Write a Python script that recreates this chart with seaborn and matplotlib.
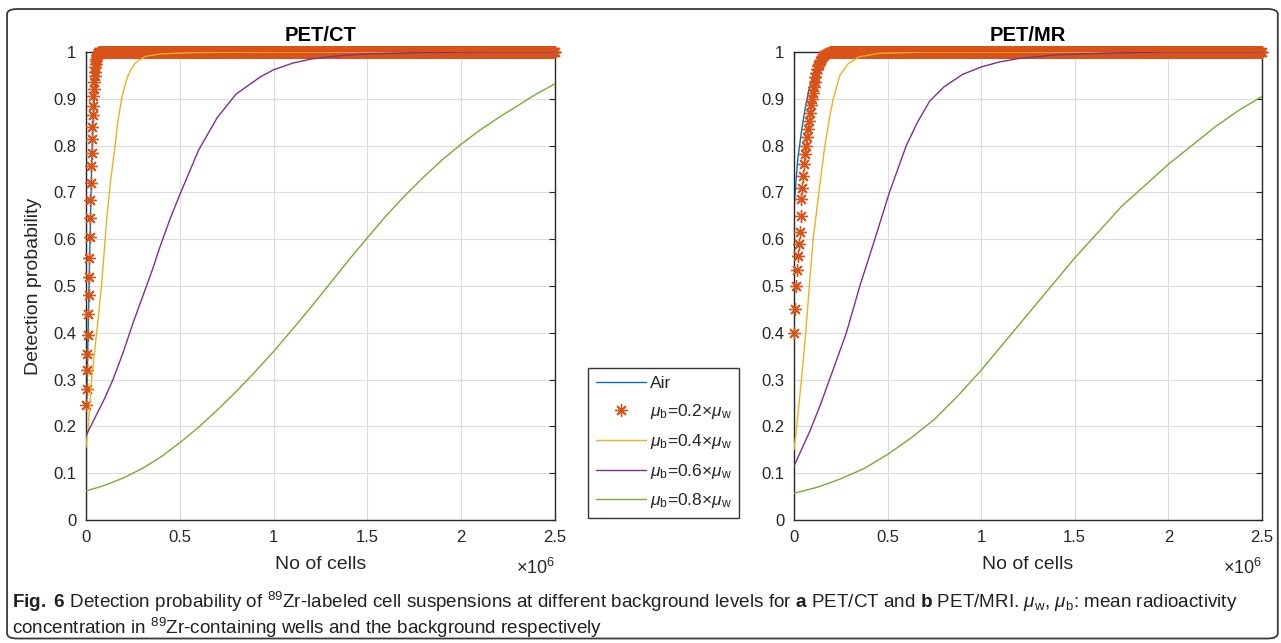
import numpy as np
import seaborn as sns
import matplotlib.pyplot as plt
from matplotlib.patches import FancyBboxPatch

# Curves. x values are in units of 1e6 cells.
# ---- PET/CT (panel a) ----
ct_air_x = [0, 0.002, 0.004, 0.008, 0.012, 0.016, 0.02, 0.025, 0.03, 0.035, 0.04, 0.05, 0.06, 0.08, 0.1, 2.5]
ct_air_y = [0.17, 0.22, 0.26, 0.33, 0.41, 0.49, 0.57, 0.66, 0.75, 0.82, 0.87, 0.93, 0.97, 0.99, 1.0, 1.0]

ct_02_x = [0.002, 0.004, 0.006, 0.008, 0.010, 0.012, 0.014, 0.016, 0.018, 0.020, 0.022, 0.024,
           0.026, 0.028, 0.030, 0.032, 0.034, 0.036, 0.038, 0.040, 0.042, 0.044, 0.046, 0.048,
           0.050, 0.052, 0.054, 0.056, 0.058, 0.060, 0.062, 0.064, 0.066, 0.068]
ct_02_y = [0.245, 0.28, 0.32, 0.355, 0.395, 0.44, 0.48, 0.52, 0.56, 0.605, 0.645, 0.684,
           0.72, 0.756, 0.785, 0.815, 0.84, 0.865, 0.885, 0.905, 0.92, 0.935, 0.948, 0.958,
           0.967, 0.975, 0.981, 0.986, 0.99, 0.993, 0.995, 0.997, 0.998, 0.999]

ct_04_x = [0, 0.012, 0.03, 0.057, 0.083, 0.11, 0.13, 0.155, 0.17, 0.19, 0.205, 0.225, 0.24,
           0.26, 0.28, 0.32, 0.4, 0.6, 1.0, 2.5]
ct_04_y = [0.155, 0.2, 0.3, 0.4, 0.5, 0.64, 0.72, 0.8, 0.85, 0.9, 0.925, 0.95, 0.962,
           0.975, 0.982, 0.991, 0.996, 0.999, 1.0, 1.0]

ct_06_x = [0, 0.05, 0.1, 0.144, 0.2, 0.25, 0.3, 0.35, 0.4, 0.45, 0.5, 0.6, 0.7, 0.8, 0.93,
           1.0, 1.1, 1.2, 1.35, 1.5, 1.8, 2.2, 2.5]
ct_06_y = [0.18, 0.22, 0.26, 0.3, 0.36, 0.42, 0.475, 0.53, 0.59, 0.645, 0.695, 0.79, 0.86, 0.91,
           0.947, 0.962, 0.976, 0.985, 0.992, 0.996, 0.999, 1.0, 1.0]

ct_08_x = [0, 0.1, 0.2, 0.3, 0.4, 0.5, 0.6, 0.7, 0.8, 0.9, 1.0, 1.1, 1.2, 1.3, 1.4, 1.5, 1.6,
           1.7, 1.8, 1.9, 2.0, 2.1, 2.2, 2.3, 2.4, 2.5]
ct_08_y = [0.062, 0.074, 0.09, 0.11, 0.135, 0.165, 0.198, 0.235, 0.274, 0.316, 0.36, 0.407,
           0.455, 0.505, 0.555, 0.603, 0.65, 0.693, 0.733, 0.77, 0.803, 0.833, 0.86, 0.885,
           0.91, 0.932]

# ---- PET/MR (panel b) ----
mr_air_x = [0, 0.01, 0.02, 0.04, 0.06, 0.08, 0.1, 0.12, 0.15, 0.2, 2.5]
mr_air_y = [0.66, 0.72, 0.77, 0.83, 0.88, 0.92, 0.95, 0.97, 0.99, 1.0, 1.0]

mr_02_x = [0, 0.005, 0.01, 0.015, 0.02, 0.025, 0.03, 0.035, 0.04, 0.045, 0.05, 0.055, 0.06,
           0.065, 0.07, 0.075, 0.08, 0.085, 0.09, 0.095, 0.1, 0.105, 0.11, 0.115, 0.12, 0.125,
           0.13, 0.135, 0.14, 0.145, 0.15, 0.155, 0.16, 0.17, 0.18, 0.19]
mr_02_y = [0.40, 0.45, 0.50, 0.535, 0.565, 0.59, 0.615, 0.65, 0.685, 0.71, 0.735, 0.76, 0.782,
           0.80, 0.818, 0.836, 0.853, 0.87, 0.886, 0.9, 0.913, 0.925, 0.937, 0.947, 0.956, 0.964,
           0.97, 0.975, 0.98, 0.984, 0.988, 0.991, 0.993, 0.996, 0.998, 0.999]

mr_04_x = [0, 0.015, 0.04, 0.063, 0.082, 0.103, 0.133, 0.165, 0.19, 0.21, 0.245, 0.29, 0.35,
           0.45, 0.7, 2.5]
mr_04_y = [0.15, 0.2, 0.3, 0.4, 0.5, 0.6, 0.7, 0.8, 0.86, 0.9, 0.95, 0.975, 0.99, 0.997, 1.0, 1.0]

mr_06_x = [0, 0.04, 0.085, 0.14, 0.19, 0.28, 0.352, 0.432, 0.51, 0.6, 0.66, 0.725, 0.8, 0.9,
           1.0, 1.1, 1.2, 1.4, 1.7, 2.0, 2.5]
mr_06_y = [0.115, 0.15, 0.19, 0.245, 0.3, 0.4, 0.5, 0.6, 0.7, 0.8, 0.85, 0.895, 0.925, 0.952,
           0.968, 0.979, 0.986, 0.994, 0.998, 1.0, 1.0]

mr_08_x = [0, 0.125, 0.25, 0.375, 0.5, 0.625, 0.75, 0.875, 1.0, 1.125, 1.25, 1.375, 1.5, 1.625,
           1.75, 1.875, 2.0, 2.125, 2.25, 2.375, 2.5]
mr_08_y = [0.057, 0.07, 0.088, 0.11, 0.14, 0.175, 0.215, 0.265, 0.32, 0.38, 0.44, 0.50, 0.56,
           0.615, 0.67, 0.715, 0.76, 0.80, 0.84, 0.875, 0.905]

# The 0.2 x mu_w markers sit at 1.0 from here to the end of the axis (dense band)
ct_02_flat_start = 0.07
mr_02_flat_start = 0.195
flat_level = 1.0
flat_step = 0.004

x_ticks = [0, 0.5, 1, 1.5, 2, 2.5]
x_tick_labels = ['0', '0.5', '1', '1.5', '2', '2.5']
y_ticks = [0, 0.1, 0.2, 0.3, 0.4, 0.5, 0.6, 0.7, 0.8, 0.9, 1.0]
y_tick_labels = ['0', '0.1', '0.2', '0.3', '0.4', '0.5', '0.6', '0.7', '0.8', '0.9', '1']

legend_labels = ['Air',
                 r'$\mu_{\rm b}$=0.2$\times\mu_{\rm w}$',
                 r'$\mu_{\rm b}$=0.4$\times\mu_{\rm w}$',
                 r'$\mu_{\rm b}$=0.6$\times\mu_{\rm w}$',
                 r'$\mu_{\rm b}$=0.8$\times\mu_{\rm w}$']

# MATLAB default line colours
COLORS = ['#0072BD', '#D95319', '#EDB120', '#7E2F8E', '#77AC30']
TEXT = '#262626'
STAR = (8, 2, 0)


def style_axes(ax, title, ylabel=None):
    """Give an axes the MATLAB look: boxed, inward ticks, light grid."""
    ax.set_xlim(0, 2.5)
    ax.set_ylim(0, 1)
    ax.set_xticks(x_ticks)
    ax.set_xticklabels(x_tick_labels)
    ax.set_yticks(y_ticks)
    ax.set_yticklabels(y_tick_labels)
    ax.set_facecolor('white')
    ax.grid(True, color='#dcdcdc', linewidth=0.8)
    ax.set_axisbelow(True)
    for side in ax.spines.values():
        side.set_visible(True)
        side.set_color(TEXT)
        side.set_linewidth(1.0)
    ax.tick_params(direction='in', length=4, width=0.8, colors=TEXT,
                   labelsize=12, top=True, right=True, pad=7)
    ax.set_title(title, fontsize=14.5, fontweight='bold', color='black', pad=8)
    ax.set_xlabel('No of cells', fontsize=14, color=TEXT, labelpad=8)
    if ylabel:
        ax.set_ylabel(ylabel, fontsize=14, color=TEXT, labelpad=8)
    else:
        ax.set_ylabel('')
    ax.text(1.0, -0.082, r'$\times10^{6}$', transform=ax.transAxes, ha='right',
            va='top', fontsize=13, color=TEXT)


def draw_panel(ax, air, p02, p04, p06, p08, flat_start):
    """Draw the five detection probability curves of one panel."""
    sns.lineplot(x=air[0], y=air[1], ax=ax, color=COLORS[0], linewidth=1.0,
                 estimator=None, sort=False, label=legend_labels[0])
    stars_x = list(p02[0]) + list(np.arange(flat_start, 2.5 + 1e-9, flat_step))
    stars_y = list(p02[1]) + [flat_level] * (len(stars_x) - len(p02[0]))
    ax.plot(stars_x, stars_y, linestyle='none', marker=STAR, markersize=9,
            markeredgewidth=1.0, color=COLORS[1], clip_on=False, zorder=3,
            label=legend_labels[1])
    for (xs, ys), col, lab in zip([p04, p06, p08], COLORS[2:], legend_labels[2:]):
        sns.lineplot(x=xs, y=ys, ax=ax, color=col, linewidth=1.0,
                     estimator=None, sort=False, label=lab, zorder=4)
    ax.get_legend().remove()


def main():
    sns.set_theme(style='whitegrid')
    plt.rcParams['font.family'] = ['Liberation Sans', 'DejaVu Sans']
    plt.rcParams['mathtext.fontset'] = 'custom'
    plt.rcParams['mathtext.rm'] = 'Liberation Sans'
    plt.rcParams['mathtext.it'] = 'Liberation Sans:italic'
    plt.rcParams['mathtext.bf'] = 'Liberation Sans:bold'

    fig = plt.figure(figsize=(12.81, 6.43), dpi=100)
    fig.patch.set_facecolor('white')
    ax_ct = fig.add_axes([0.0671, 0.1913, 0.3661, 0.7278])
    ax_mr = fig.add_axes([0.6198, 0.1913, 0.3653, 0.7278])

    draw_panel(ax_ct, (ct_air_x, ct_air_y), (ct_02_x, ct_02_y), (ct_04_x, ct_04_y),
               (ct_06_x, ct_06_y), (ct_08_x, ct_08_y), ct_02_flat_start)
    draw_panel(ax_mr, (mr_air_x, mr_air_y), (mr_02_x, mr_02_y), (mr_04_x, mr_04_y),
               (mr_06_x, mr_06_y), (mr_08_x, mr_08_y), mr_02_flat_start)
    style_axes(ax_ct, 'PET/CT', 'Detection probability')
    style_axes(ax_mr, 'PET/MR')

    handles, labels = ax_ct.get_legend_handles_labels()
    leg = fig.legend(handles, labels, loc='lower left', bbox_to_anchor=(0.459, 0.194),
                     fontsize=12.5, frameon=True, fancybox=False, handlelength=2.9,
                     labelspacing=0.62, borderpad=0.45, handletextpad=0.2,
                     borderaxespad=0)
    leg.get_frame().set_edgecolor('black')
    leg.get_frame().set_linewidth(1.0)
    for txt in leg.get_texts():
        txt.set_color(TEXT)

    caption1 = (r'$\bf{Fig.\ 6}$ Detection probability of $^{89}$Zr-labeled cell suspensions at '
                r'different background levels for $\bf{a}$ PET/CT and $\bf{b}$ PET/MRI. '
                r'$\mu_{\rm w}$, $\mu_{\rm b}$: mean radioactivity')
    caption2 = r'concentration in $^{89}$Zr-containing wells and the background respectively'
    fig.text(0.0095, 0.064, caption1, fontsize=13.6, color='#231f20', va='center')
    fig.text(0.0095, 0.024, caption2, fontsize=13.6, color='#231f20', va='center')

    frame = FancyBboxPatch((0.0055, 0.007), 0.992, 0.979, transform=fig.transFigure,
                           boxstyle='round,pad=0,rounding_size=0.008',
                           facecolor='none', edgecolor='#3a3a3a', linewidth=1.3)
    fig.patches.append(frame)

    fig.savefig('out.png', dpi=100, facecolor='white')
    plt.close(fig)


if __name__ == '__main__':
    main()
